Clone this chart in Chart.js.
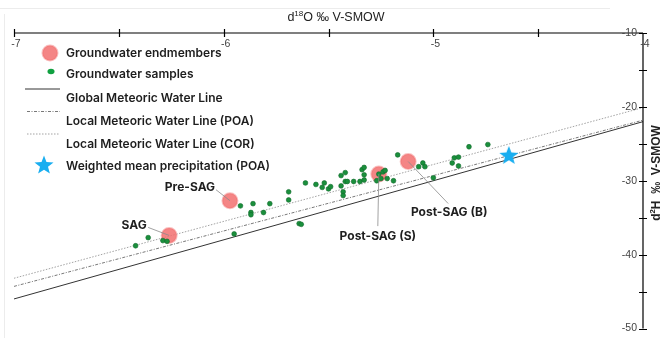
<!DOCTYPE html>
<html>
<head>
<meta charset="utf-8">
<script src="https://cdn.jsdelivr.net/npm/chart.js@4.4.1/dist/chart.umd.min.js"></script>
<style>
  html, body { margin: 0; padding: 0; background: #fff; }
  #wrap { position: relative; width: 663px; height: 338px; }
</style>
</head>
<body>
<div id="wrap"><canvas id="isoChart" width="663" height="338"></canvas></div>
<script>
// groundwater samples (d18O, d2H)
const sampleO = [-6.42, -6.36, -6.29, -6.27, -5.95, -5.92, -5.86, -5.87, -5.87, -5.81,
  -5.78, -5.69, -5.69, -5.64, -5.63, -5.61, -5.56, -5.53, -5.52, -5.50,
  -5.49, -5.44, -5.42, -5.44, -5.42, -5.43, -5.43, -5.41, -5.38, -5.35,
  -5.33, -5.33, -5.34, -5.33, -5.26, -5.24, -5.23, -5.27, -5.25, -5.22,
  -5.19, -5.17, -5.07, -5.05, -5.04, -5.00, -4.91, -4.90, -4.88, -4.88,
  -4.83, -4.74];
const sampleH = [-38.8, -37.7, -38.1, -38.2, -37.2, -33.4, -33.1, -34.3, -34.6, -34.3,
  -33.1, -31.5, -32.6, -35.8, -35.9, -30.3, -30.5, -30.9, -30.3, -31.1,
  -30.8, -29.3, -28.9, -30.7, -30.1, -31.5, -32.0, -30.1, -30.1, -30.1,
  -29.9, -29.2, -28.5, -28.2, -29.1, -28.8, -28.6, -30.0, -29.7, -29.7,
  -30.0, -26.5, -28.1, -27.6, -28.1, -29.6, -27.6, -26.9, -26.8, -28.0,
  -25.4, -25.1];

// groundwater endmembers
const endmemberNames = ['SAG', 'Pre-SAG', 'Post-SAG (S)', 'Post-SAG (B)'];
const endmemberO = [-6.26, -5.97, -5.26, -5.12];
const endmemberH = [-37.4, -32.7, -29.1, -27.4];

// weighted mean precipitation (POA)
const precipO = [-4.64];
const precipH = [-26.5];

// meteoric water lines, end points at d18O = -7 and -4
const lineNames = ['Global Meteoric Water Line', 'Local Meteoric Water Line (POA)', 'Local Meteoric Water Line (COR)'];
const lineO = [-7, -4];
const lineStartH = [-46.0, -44.3, -43.2];
const lineEndH = [-22.0, -21.8, -20.1];

const xTicks = [-7, -6, -5, -4];
const yTicks = [-10, -20, -30, -40, -50];

// label offsets in px (text centre relative to the point) and leader start
const labelPos = [
  { dx: -35, dy: -10, lx: -21, ly: -8 },
  { dx: -40, dy: -13, lx: -14, ly: -11 },
  { dx: -1, dy: 62, lx: -1, ly: 52 },
  { dx: 41, dy: 51, lx: 40, ly: 42 }
];

const STAR_BLUE = '#19aef0';
const GREEN = '#1a8f3c';
const RED_FILL = 'rgba(242, 112, 112, 0.85)';
const RED_EDGE = 'rgba(242, 112, 112, 0.45)';

function starCanvas(r) {
  const c = document.createElement('canvas');
  const s = Math.ceil(r * 2 + 2);
  c.width = s; c.height = s;
  const g = c.getContext('2d');
  drawStar(g, s / 2, s / 2 + 1, r);
  return c;
}
function drawStar(g, cx, cy, r) {
  g.save();
  g.beginPath();
  for (let i = 0; i < 10; i++) {
    const rad = i % 2 === 0 ? r : r * 0.42;
    const a = -Math.PI / 2 + i * Math.PI / 5;
    const px = cx + rad * Math.cos(a), py = cy + rad * Math.sin(a);
    if (i === 0) g.moveTo(px, py); else g.lineTo(px, py);
  }
  g.closePath();
  g.fillStyle = STAR_BLUE;
  g.fill();
  g.restore();
}

const lineStyles = [
  { color: '#333', dash: [], width: 1 },
  { color: '#555', dash: [3, 1.5, 1, 1.5], width: 0.8 },
  { color: '#999', dash: [1.5, 1.5], width: 0.9 }
];

const datasets = [];
datasets.push({
  label: 'Weighted mean precipitation (POA)',
  data: precipO.map((x, i) => ({ x: x, y: precipH[i] })),
  pointStyle: starCanvas(10),
  order: 0
});
datasets.push({
  label: 'Groundwater samples',
  data: sampleO.map((x, i) => ({ x: x, y: sampleH[i] })),
  backgroundColor: GREEN,
  borderColor: '#0f6a2a',
  borderWidth: 0.6,
  pointRadius: 2.4,
  order: 1
});
datasets.push({
  label: 'Groundwater endmembers',
  data: endmemberO.map((x, i) => ({ x: x, y: endmemberH[i] })),
  backgroundColor: RED_FILL,
  borderColor: RED_EDGE,
  borderWidth: 2,
  pointRadius: 7.5,
  order: 2
});
lineNames.forEach((name, i) => {
  datasets.push({
    label: name,
    type: 'line',
    data: [{ x: lineO[0], y: lineStartH[i] }, { x: lineO[1], y: lineEndH[i] }],
    borderColor: lineStyles[i].color,
    borderDash: lineStyles[i].dash,
    borderWidth: lineStyles[i].width,
    pointRadius: 0,
    fill: false,
    order: 3
  });
});

function drawSupText(ctx, parts, x, y, size, weight) {
  // parts: [text, isSup]
  let w = 0;
  parts.forEach(p => {
    ctx.font = weight + ' ' + (p[1] ? size * 0.65 : size) + 'px "Liberation Sans", Arial, sans-serif';
    w += ctx.measureText(p[0]).width;
  });
  let cx = x - w / 2;
  parts.forEach(p => {
    const fs = p[1] ? size * 0.65 : size;
    ctx.font = weight + ' ' + fs + 'px "Liberation Sans", Arial, sans-serif';
    ctx.fillText(p[0], cx, p[1] ? y - size * 0.35 : y);
    cx += ctx.measureText(p[0]).width;
  });
}

const axesPlugin = {
  id: 'axesPlugin',
  beforeDraw(chart) {
    const ctx = chart.ctx;
    ctx.save();
    ctx.strokeStyle = '#ececec';
    ctx.lineWidth = 1;
    ctx.beginPath();
    ctx.moveTo(4.5, 14); ctx.lineTo(4.5, 338);
    ctx.moveTo(0, 8.5); ctx.lineTo(610, 8.5);
    ctx.stroke();
    ctx.restore();
  },
  afterDraw(chart) {
    const ctx = chart.ctx;
    const xs = chart.scales.x, ys = chart.scales.y;
    const a = chart.chartArea;
    ctx.save();
    ctx.strokeStyle = '#000';
    ctx.lineWidth = 1.2;
    // x axis (top)
    ctx.beginPath();
    ctx.moveTo(a.left, a.top); ctx.lineTo(a.right, a.top);
    for (let v = -7; v <= -4.001; v += 0.5) {
      const px = Math.round(xs.getPixelForValue(v)) + 0.5;
      ctx.moveTo(px, a.top - 4); ctx.lineTo(px, a.top + 4);
    }
    // y axis (right)
    ctx.moveTo(a.right, a.top); ctx.lineTo(a.right, a.bottom);
    for (let v = -50; v <= -10; v += 5) {
      const py = Math.round(ys.getPixelForValue(v)) + 0.5;
      ctx.moveTo(a.right - 4, py); ctx.lineTo(a.right + 4, py);
    }
    ctx.stroke();

    ctx.fillStyle = '#444';
    ctx.font = '10.5px "Liberation Sans", Arial, sans-serif';
    ctx.textAlign = 'center';
    ctx.textBaseline = 'middle';
    xTicks.forEach(v => {
      ctx.fillText(String(v), xs.getPixelForValue(v) + 2, a.top + 11);
    });
    ctx.textAlign = 'right';
    yTicks.forEach(v => {
      ctx.fillText(String(v), a.right - 6, ys.getPixelForValue(v));
    });

    // axis titles
    ctx.fillStyle = '#222';
    ctx.textAlign = 'left';
    ctx.textBaseline = 'middle';
    drawSupText(ctx, [['d', false], ['18', true], ['O \u2030 V-SMOW', false]], 336, 18, 12.5, 'normal');
    ctx.save();
    ctx.translate(657, 173);
    ctx.rotate(-Math.PI / 2);
    drawSupText(ctx, [['d', false], ['2', true], ['H  \u2030  V-SMOW', false]], 0, 0, 12, 'bold');
    ctx.restore();

    // endmember labels
    const em = chart.getDatasetMeta(2).data;
    ctx.font = '700 12px Inter, "Open Sans", sans-serif';
    ctx.textAlign = 'center';
    ctx.textBaseline = 'middle';
    endmemberNames.forEach((name, i) => {
      const p = em[i];
      const lp = labelPos[i];
      ctx.strokeStyle = '#8a8a8a';
      ctx.lineWidth = 0.8;
      ctx.beginPath();
      ctx.moveTo(p.x + lp.lx, p.y + lp.ly);
      ctx.lineTo(p.x, p.y);
      ctx.stroke();
      ctx.fillStyle = '#1e1e1e';
      ctx.fillText(name, p.x + lp.dx, p.y + lp.dy);
    });

    // legend
    const items = [
      { text: 'Groundwater endmembers', y: 53 },
      { text: 'Groundwater samples', y: 74 },
      { text: lineNames[0], y: 98 },
      { text: lineNames[1], y: 121 },
      { text: lineNames[2], y: 144 },
      { text: 'Weighted mean precipitation (POA)', y: 166 }
    ];
    ctx.textAlign = 'left';
    ctx.fillStyle = '#1e1e1e';
    ctx.font = '600 12px Inter, "Open Sans", sans-serif';
    items.forEach(it => ctx.fillText(it.text, 66, it.y));
    // symbols
    ctx.beginPath();
    ctx.arc(50, 53, 7.5, 0, Math.PI * 2);
    ctx.fillStyle = RED_FILL; ctx.fill();
    ctx.strokeStyle = RED_EDGE; ctx.lineWidth = 2; ctx.stroke();
    ctx.beginPath();
    ctx.ellipse(51, 71.5, 3.5, 2.8, 0, 0, Math.PI * 2);
    ctx.fillStyle = '#10a040'; ctx.fill();
    [89, 111.5, 134].forEach((ly, i) => {
      ctx.beginPath();
      ctx.setLineDash(lineStyles[i].dash);
      ctx.strokeStyle = lineStyles[i].color;
      ctx.lineWidth = lineStyles[i].width;
      ctx.moveTo(i === 0 ? 25 : 27, ly); ctx.lineTo(60, ly);
      ctx.stroke();
    });
    ctx.setLineDash([]);
    drawStar(ctx, 44, 165.5, 10);
    ctx.restore();
  }
};

new Chart(document.getElementById('isoChart'), {
  type: 'scatter',
  data: { datasets: datasets },
  options: {
    responsive: false,
    animation: false,
    layout: { padding: { left: 14, right: 20, top: 33, bottom: 9 } },
    scales: {
      x: { type: 'linear', min: -7, max: -4, display: false },
      y: { type: 'linear', min: -50, max: -10, display: false }
    },
    plugins: {
      legend: { display: false },
      tooltip: { enabled: false }
    }
  },
  plugins: [axesPlugin]
});
</script>
</body>
</html>
